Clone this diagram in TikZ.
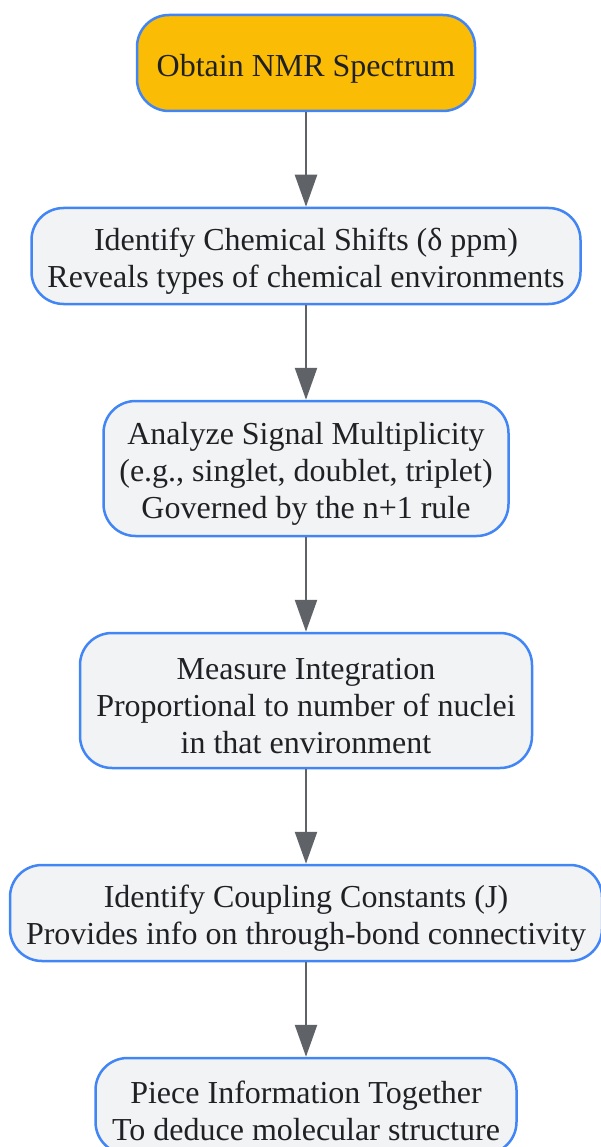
\documentclass[tikz,border=0pt]{standalone}
\usepackage{fontspec}
\setmainfont{Liberation Serif}
\usetikzlibrary{positioning,arrows.meta}
\definecolor{edgeblue}{RGB}{66,133,244}
\definecolor{boxgray}{RGB}{241,243,245}
\definecolor{startyellow}{RGB}{251,188,5}
\definecolor{arrowgray}{RGB}{95,99,104}
\definecolor{txt}{RGB}{32,33,36}
\newcommand{\topstrut}{\rule{0pt}{33pt}}

\begin{document}
\begin{tikzpicture}[x=1pt, y=1pt, node distance=94.5pt, b/.style={rectangle, rounded corners=32pt, draw=edgeblue, line width=2.5pt, fill=boxgray, text=txt, align=center, font=\fontsize{32}{37}\selectfont, minimum height=96pt, inner sep=0pt}, st/.style={fill=startyellow}, a/.style={-{Triangle[length=32pt, width=22pt]}, line width=2.5pt, color=arrowgray}]
		\useasboundingbox (0,0) rectangle (601,-1147);
		\node[b, st, minimum width=338pt] (obtain) at (306,-63) {\topstrut Obtain NMR Spectrum};
		\node[b, minimum width=549pt, below=of obtain] (shifts) {\topstrut Identify Chemical Shifts (δ ppm)\\Reveals types of chemical environments};
		\node[b, minimum width=405pt, minimum height=135pt, below=of shifts] (mult) {\topstrut Analyze Signal Multiplicity\\(e.g., singlet, doublet, triplet)\\Governed by the n+1 rule};
		\node[b, minimum width=452pt, minimum height=135pt, below=of mult] (integ) {\topstrut Measure Integration\\Proportional to number of nuclei\\in that environment};
		\node[b, minimum width=592pt, below=of integ] (coupl) {\topstrut Identify Coupling Constants (J)\\Provides info on through-bond connectivity};
		\node[b, minimum width=421pt, below=of coupl] (piece) {\topstrut Piece Information Together\\To deduce molecular structure};


		\path[a] (obtain) edge (shifts);
		\path[a] (shifts) edge (mult);
		\path[a] (mult) edge (integ);
		\path[a] (integ) edge (coupl);
		\path[a] (coupl) edge (piece);
	\end{tikzpicture}
\end{document}
